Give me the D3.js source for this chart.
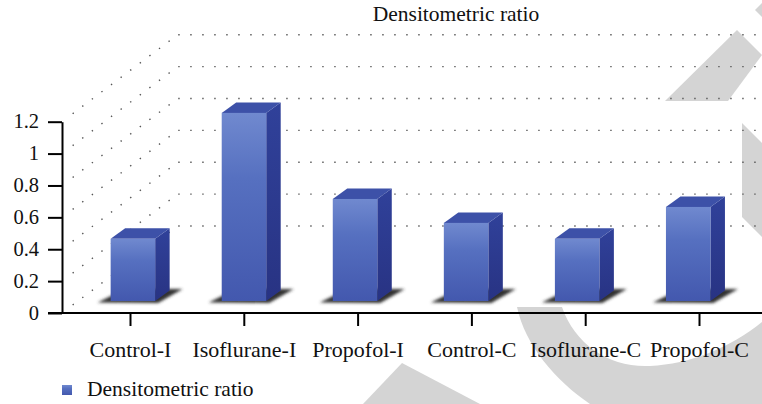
<!DOCTYPE html>
<html>
<head>
<meta charset="utf-8">
<script src="https://cdn.jsdelivr.net/npm/d3@7"></script>
<style>
  body { margin: 0; background: #fff; }
  svg { display: block; }
</style>
</head>
<body>
<script>
var categories = ["Control-I", "Isoflurane-I", "Propofol-I", "Control-C", "Isoflurane-C", "Propofol-C"];
var ratioValues = [0.39, 1.18, 0.64, 0.49, 0.39, 0.59];
var yTicks = [0, 0.2, 0.4, 0.6, 0.8, 1, 1.2];
var seriesName = "Densitometric ratio";

var W = 762, H = 404;
var depthX = 1.33;          // horizontal shift per pixel of depth
var wallDepth = 87, wallStart = 8;
var barDepth = 12, barW = 44.5, barDx = 14.5, barDy = 10.5;

var svg = d3.select("body").append("svg")
    .attr("width", W).attr("height", H)
    .style("font-family", "'Liberation Serif', 'Times New Roman', serif");

var defs = svg.append("defs");
var gFront = defs.append("linearGradient").attr("id", "front").attr("x1", 0).attr("y1", 0).attr("x2", 0).attr("y2", 1);
gFront.append("stop").attr("offset", "0%").attr("stop-color", "#7089cf");
gFront.append("stop").attr("offset", "35%").attr("stop-color", "#5670c0");
gFront.append("stop").attr("offset", "100%").attr("stop-color", "#4358ae");
var gSide = defs.append("linearGradient").attr("id", "side").attr("x1", 0).attr("y1", 0).attr("x2", 0).attr("y2", 1);
gSide.append("stop").attr("offset", "0%").attr("stop-color", "#30419a");
gSide.append("stop").attr("offset", "100%").attr("stop-color", "#283383");
defs.append("filter").attr("id", "blur").attr("x", "-20%").attr("y", "-50%").attr("width", "140%").attr("height", "200%")
    .append("feGaussianBlur").attr("stdDeviation", 1.6);

// watermark shapes, behind everything
var wm = svg.append("g").attr("fill", "#d4d4d4");
wm.append("path").attr("d", "M517,307 L562,307 C575,345 610,368 650,366 C690,364 730,348 762,322 L762,404 L590,404 C555,380 525,345 517,307 Z");
wm.append("polygon").attr("points", "742,123 762,143 762,237 742,217");
wm.append("polygon").attr("points", "665,101 737,30 762,55 728,101");
wm.append("polygon").attr("points", "755,10 762,3 762,17");
wm.append("polygon").attr("points", "402,363 480,404 363,404");

var y = d3.scaleLinear().domain([0, 1.2]).range([313, 121.7]);
var x = d3.scalePoint().domain(categories).range([130, 699]);
// bar front-face centres sit a little back, so they spread slightly less
var xBar = d3.scalePoint().domain(categories).range([132.9, 688.2]);

// walls: dotted grid on left wall and back wall
svg.append("g").selectAll("path").data(yTicks).join("path")
    .attr("d", function(t) {
        var y0 = y(t);
        return "M" + (62 + wallStart * depthX) + "," + (y0 - wallStart) +
               "L" + (62 + wallDepth * depthX) + "," + (y0 - wallDepth) +
               "L" + W + "," + (y0 - wallDepth);
    })
    .attr("fill", "none")
    .attr("stroke", "#555")
    .attr("stroke-width", 1.4)
    .attr("stroke-dasharray", "1.4 10.6");

// bars
var bars = svg.append("g").selectAll("g").data(categories).join("g");
bars.each(function(c, i) {
    var g = d3.select(this);
    var x0 = xBar(c) - barW / 2, x1 = x0 + barW;
    var B = y(0) - barDepth, T = y(ratioValues[i]) - barDepth;
    g.append("polygon")
        .attr("points", [[x0 - 13, B + 1.5], [x1 + 3, B + 2], [x1 + barDx + 13, B - 12], [x0 + barDx, B - 12]].join(" "))
        .attr("fill", "#333").attr("filter", "url(#blur)");
    g.append("polygon")
        .attr("points", [[x1, T], [x1 + barDx, T - barDy], [x1 + barDx, B - barDy], [x1, B]].join(" "))
        .attr("fill", "url(#side)");
    g.append("polygon")
        .attr("points", [[x0, T], [x0 + barDx, T - barDy], [x1 + barDx, T - barDy], [x1, T]].join(" "))
        .attr("fill", "#3d51a8");
    g.append("rect")
        .attr("x", x0).attr("y", T).attr("width", barW).attr("height", B - T)
        .attr("fill", "url(#front)");
});

// y axis
var yAxis = svg.append("g").attr("transform", "translate(62,0)")
    .call(d3.axisLeft(y).tickValues(yTicks).tickSize(14).tickSizeOuter(0).tickPadding(9).tickFormat(d3.format("~g")));
yAxis.select(".domain").attr("stroke", "#000").attr("stroke-width", 2);
yAxis.selectAll(".tick line").attr("stroke", "#000").attr("stroke-width", 2);
yAxis.selectAll(".tick text").attr("font-size", 20.5).attr("fill", "#111").attr("dy", "0.3em")
    .style("font-family", "'Liberation Serif', 'Times New Roman', serif");

// x axis
var xAxis = svg.append("g").attr("transform", "translate(0,313)")
    .call(d3.axisBottom(x).tickSize(13).tickSizeOuter(0).tickPadding(15));
xAxis.select(".domain").remove();
xAxis.append("line").attr("x1", 48).attr("x2", W).attr("stroke", "#000").attr("stroke-width", 2);
xAxis.selectAll(".tick line").attr("stroke", "#000").attr("stroke-width", 2);
xAxis.selectAll(".tick text").attr("font-size", 22).attr("fill", "#111")
    .style("font-family", "'Liberation Serif', 'Times New Roman', serif");

// title
svg.append("text").attr("x", 456).attr("y", 21).attr("text-anchor", "middle")
    .attr("font-size", 21.5).attr("fill", "#111").text(seriesName);

// legend
svg.append("rect").attr("x", 62).attr("y", 385).attr("width", 10).attr("height", 10).attr("fill", "url(#front)");
svg.append("text").attr("x", 87).attr("y", 396).attr("font-size", 21.5).attr("fill", "#111").text(seriesName);
</script>
</body>
</html>
